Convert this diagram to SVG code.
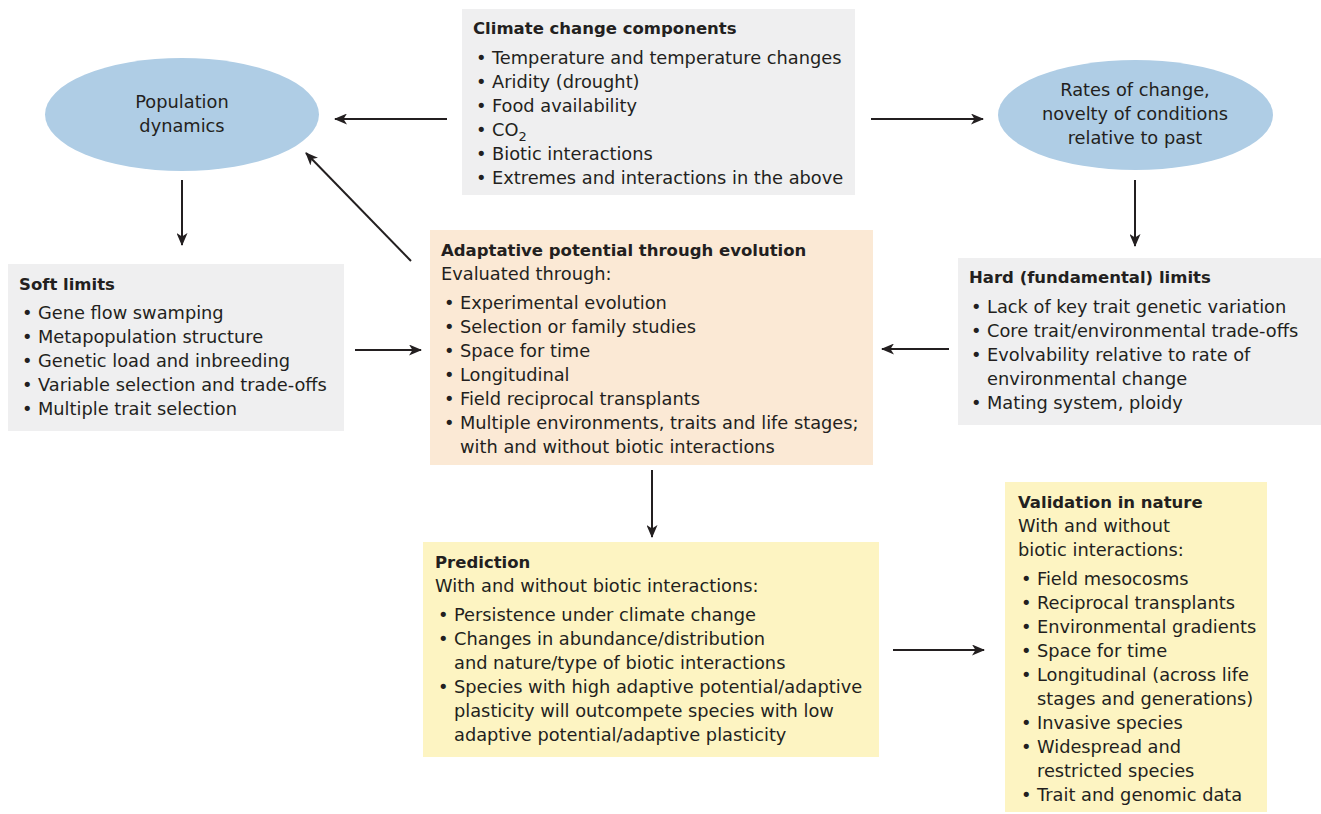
<svg xmlns="http://www.w3.org/2000/svg" width="1321" height="814" viewBox="0 0 1321 814">
<defs>
<marker id="ah" markerWidth="13" markerHeight="11" refX="12" refY="5.5" orient="auto" markerUnits="userSpaceOnUse">
<path d="M0,0 L13,5.5 L0,11 L3.5,5.5 Z" fill="#231f20"/>
</marker>
</defs>
<style>
text{font-family:"DejaVu Sans",sans-serif;font-size:17.8px;fill:#231f20}
.b{font-weight:bold;font-size:16.5px}
.m{text-anchor:middle}
.grey{fill:#efeff0}
.blue{fill:#afcde5}
.peach{fill:#fbe9d5}
.yel{fill:#fdf4c2}
.c{stroke:#231f20;stroke-width:2;fill:none;marker-end:url(#ah)}
</style>
<rect width="1321" height="814" fill="#ffffff"/>
<g id="climate">
<rect class="grey" x="462" y="9" width="393" height="186"/>
<text class="b" x="473" y="34">Climate change components</text>
<text x="476" y="64">• <tspan x="492">Temperature and temperature changes</tspan></text>
<text x="476" y="88">• <tspan x="492">Aridity (drought)</tspan></text>
<text x="476" y="112">• <tspan x="492">Food availability</tspan></text>
<text x="476" y="136">• <tspan x="492">CO</tspan><tspan font-size="13" dy="5">2</tspan></text>
<text x="476" y="160">• <tspan x="492">Biotic interactions</tspan></text>
<text x="476" y="184">• <tspan x="492">Extremes and interactions in the above</tspan></text>
</g>
<g id="population">
<ellipse class="blue" cx="182" cy="114.5" rx="137" ry="56.5"/>
<text class="m" x="182" y="108">Population</text>
<text class="m" x="182" y="132">dynamics</text>
</g>
<g id="rates">
<ellipse class="blue" cx="1135.5" cy="115" rx="137.5" ry="55"/>
<text class="m" x="1135" y="96">Rates of change,</text>
<text class="m" x="1135" y="120">novelty of conditions</text>
<text class="m" x="1135" y="144">relative to past</text>
</g>
<g id="soft">
<rect class="grey" x="8" y="264" width="336" height="167"/>
<text class="b" x="19" y="290">Soft limits</text>
<text x="22" y="319">• <tspan x="38">Gene flow swamping</tspan></text>
<text x="22" y="343">• <tspan x="38">Metapopulation structure</tspan></text>
<text x="22" y="367">• <tspan x="38">Genetic load and inbreeding</tspan></text>
<text x="22" y="391">• <tspan x="38">Variable selection and trade-offs</tspan></text>
<text x="22" y="415">• <tspan x="38">Multiple trait selection</tspan></text>
</g>
<g id="adaptive">
<rect class="peach" x="430" y="230" width="443" height="235"/>
<text class="b" x="441" y="256">Adaptative potential through evolution</text>
<text x="441" y="280">Evaluated through:</text>
<text x="444" y="309">• <tspan x="460">Experimental evolution</tspan></text>
<text x="444" y="333">• <tspan x="460">Selection or family studies</tspan></text>
<text x="444" y="357">• <tspan x="460">Space for time</tspan></text>
<text x="444" y="381">• <tspan x="460">Longitudinal</tspan></text>
<text x="444" y="405">• <tspan x="460">Field reciprocal transplants</tspan></text>
<text x="444" y="429">• <tspan x="460">Multiple environments, traits and life stages;</tspan></text>
<text x="460" y="453">with and without biotic interactions</text>
</g>
<g id="hard">
<rect class="grey" x="958" y="258" width="363" height="167"/>
<text class="b" x="969" y="283">Hard (fundamental) limits</text>
<text x="971" y="313">• <tspan x="987">Lack of key trait genetic variation</tspan></text>
<text x="971" y="337">• <tspan x="987">Core trait/environmental trade-offs</tspan></text>
<text x="971" y="361">• <tspan x="987">Evolvability relative to rate of</tspan></text>
<text x="987" y="385">environmental change</text>
<text x="971" y="409">• <tspan x="987">Mating system, ploidy</tspan></text>
</g>
<g id="prediction">
<rect class="yel" x="423" y="542" width="456" height="215"/>
<text class="b" x="435" y="568">Prediction</text>
<text x="435" y="592">With and without biotic interactions:</text>
<text x="438" y="621">• <tspan x="454">Persistence under climate change</tspan></text>
<text x="438" y="645">• <tspan x="454">Changes in abundance/distribution</tspan></text>
<text x="454" y="669">and nature/type of biotic interactions</text>
<text x="438" y="693">• <tspan x="454">Species with high adaptive potential/adaptive</tspan></text>
<text x="454" y="717">plasticity will outcompete species with low</text>
<text x="454" y="741">adaptive potential/adaptive plasticity</text>
</g>
<g id="validation">
<rect class="yel" x="1005" y="482" width="262" height="330"/>
<text class="b" x="1018" y="508">Validation in nature</text>
<text x="1018" y="532">With and without</text>
<text x="1018" y="556">biotic interactions:</text>
<text x="1021" y="585">• <tspan x="1037">Field mesocosms</tspan></text>
<text x="1021" y="609">• <tspan x="1037">Reciprocal transplants</tspan></text>
<text x="1021" y="633">• <tspan x="1037">Environmental gradients</tspan></text>
<text x="1021" y="657">• <tspan x="1037">Space for time</tspan></text>
<text x="1021" y="681">• <tspan x="1037">Longitudinal (across life</tspan></text>
<text x="1037" y="705">stages and generations)</text>
<text x="1021" y="729">• <tspan x="1037">Invasive species</tspan></text>
<text x="1021" y="753">• <tspan x="1037">Widespread and</tspan></text>
<text x="1037" y="777">restricted species</text>
<text x="1021" y="801">• <tspan x="1037">Trait and genomic data</tspan></text>
</g>
<g id="connectors">
<line class="c" x1="447" y1="119" x2="335" y2="119"/>
<line class="c" x1="871" y1="119" x2="983" y2="119"/>
<line class="c" x1="182" y1="180" x2="182" y2="245"/>
<line class="c" x1="1135" y1="180" x2="1135" y2="246"/>
<line class="c" x1="411" y1="261" x2="306" y2="153"/>
<line class="c" x1="355" y1="350" x2="421" y2="350"/>
<line class="c" x1="949" y1="349" x2="882" y2="349"/>
<line class="c" x1="652" y1="470" x2="652" y2="537"/>
<line class="c" x1="893" y1="650" x2="984" y2="650"/>
</g>
</svg>
